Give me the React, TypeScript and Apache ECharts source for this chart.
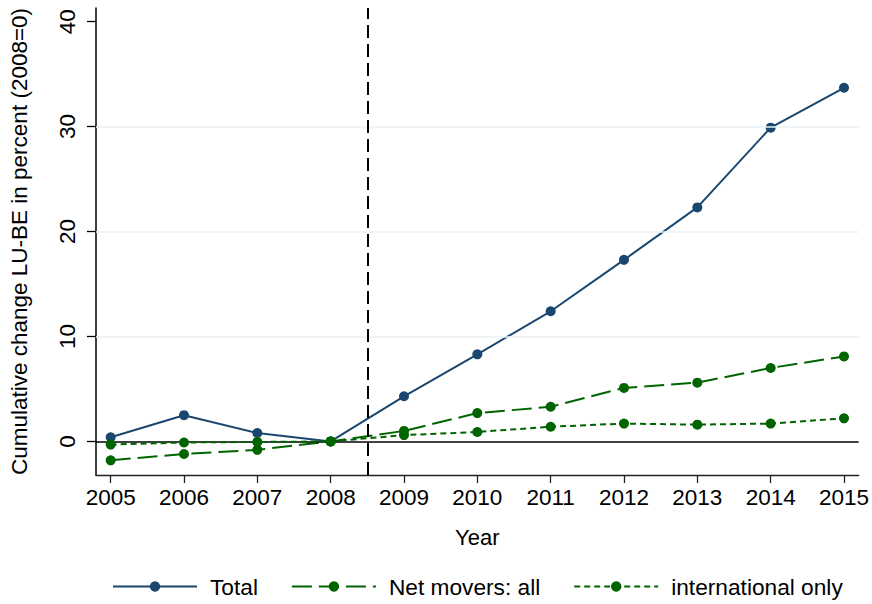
import React, { useEffect, useRef } from "react";
import * as echarts from "echarts";

const years = [2005, 2006, 2007, 2008, 2009, 2010, 2011, 2012, 2013, 2014, 2015];
const totalValues = [0.4, 2.5, 0.8, 0.0, 4.3, 8.3, 12.4, 17.3, 22.3, 29.9, 33.7];
const netMoversValues = [-1.8, -1.2, -0.8, 0.0, 1.0, 2.7, 3.3, 5.1, 5.6, 7.0, 8.1];
const internationalValues = [-0.3, -0.1, -0.05, 0.0, 0.6, 0.9, 1.4, 1.7, 1.6, 1.7, 2.2];
const yTicks = [0, 10, 20, 30, 40];
const gridValues = [10, 20, 30];
const breakYear = 2008.5;
const seriesNames = ["Total", "Net movers: all", "international only"];

const FONT = "'Liberation Sans', Arial, Helvetica, sans-serif";
const NAVY = "#1a476f";
const GREEN = "#006400";

export default function App() {
  const ref = useRef<HTMLDivElement>(null);
  useEffect(() => {
    document.body.style.margin = "0";
    const chart = echarts.init(ref.current!, undefined, { renderer: "svg" });
    const pair = (vals: number[]) => years.map((y, i) => [y, vals[i]]);
    const option: any = {
      animation: false,
      backgroundColor: "#ffffff",
      textStyle: { fontFamily: FONT, color: "#000" },
      grid: { left: 95, right: 12, top: 8, bottom: 129, containLabel: false },
      xAxis: {
        type: "value",
        min: 2004.8,
        max: 2015.2,
        name: "Year",
        nameLocation: "middle",
        nameGap: 51,
        nameTextStyle: { fontSize: 22, color: "#000", fontFamily: FONT },
        axisLine: { show: true, onZero: false, lineStyle: { color: "#222", width: 1.3 } },
        axisTick: { show: true, length: 8, customValues: years, lineStyle: { color: "#222", width: 1.3 } },
        axisLabel: {
          customValues: years,
          fontSize: 22.5,
          color: "#000",
          fontFamily: FONT,
          margin: 11,
          formatter: (v: number) => String(v),
        },
        splitLine: { show: false },
      },
      yAxis: {
        type: "value",
        min: -3.2,
        max: 41.3,
        name: "Cumulative change LU-BE in percent (2008=0)",
        nameLocation: "middle",
        nameGap: 65,
        nameRotate: 90,
        nameTextStyle: { fontSize: 22.5, color: "#000", fontFamily: FONT },
        axisLine: { show: true, onZero: false, lineStyle: { color: "#000", width: 1.5 } },
        axisTick: { show: true, length: 9, customValues: yTicks, lineStyle: { color: "#000", width: 1.3 } },
        axisLabel: {
          customValues: yTicks,
          rotate: 90,
          fontSize: 22.5,
          color: "#000",
          fontFamily: FONT,
          margin: 17,
          formatter: (v: number) => (yTicks.indexOf(v) >= 0 ? String(v) : ""),
        },
        splitLine: { show: false },
      },
      legend: {
        bottom: 6,
        left: 112,
        padding: 0,
        itemWidth: 84,
        itemHeight: 13,
        itemGap: 33,
        textStyle: { fontSize: 22.7, color: "#000", fontFamily: FONT, padding: [0, 0, 0, 8] },
        data: seriesNames,
      },
      series: [
        {
          type: "line",
          name: "__refs",
          data: [],
          z: 1,
          silent: true,
          markLine: {
            silent: true,
            symbol: "none",
            label: { show: false },
            animation: false,
            data: [
              ...gridValues.map((v) => ({ yAxis: v, lineStyle: { color: "#eaf2f3", width: 1.5, type: "solid" } })),
              { yAxis: 0, lineStyle: { color: "#000", width: 1.6, type: "solid" } },
              { xAxis: breakYear, lineStyle: { color: "#000", width: 2, type: [13, 6] } },
            ],
          },
        },
        {
          type: "line",
          name: seriesNames[0],
          data: pair(totalValues),
          z: 3,
          color: NAVY,
          symbol: "circle",
          symbolSize: 10,
          showSymbol: true,
          lineStyle: { color: NAVY, width: 2 },
          itemStyle: { color: NAVY },
        },
        {
          type: "line",
          name: seriesNames[1],
          data: pair(netMoversValues),
          z: 4,
          color: GREEN,
          symbol: "circle",
          symbolSize: 10,
          showSymbol: true,
          lineStyle: { color: GREEN, width: 2, type: [20, 7] },
          itemStyle: { color: GREEN },
        },
        {
          type: "line",
          name: seriesNames[2],
          data: pair(internationalValues),
          z: 5,
          color: GREEN,
          symbol: "circle",
          symbolSize: 10,
          showSymbol: true,
          lineStyle: { color: GREEN, width: 2, type: [6, 4] },
          itemStyle: { color: GREEN },
        },
      ],
    };
    chart.setOption(option);
    return () => chart.dispose();
  }, []);
  return (
    <div
      ref={ref}
      style={{ position: "fixed", left: 0, top: 0, width: 872, height: 604, background: "#fff" }}
    />
  );
}
